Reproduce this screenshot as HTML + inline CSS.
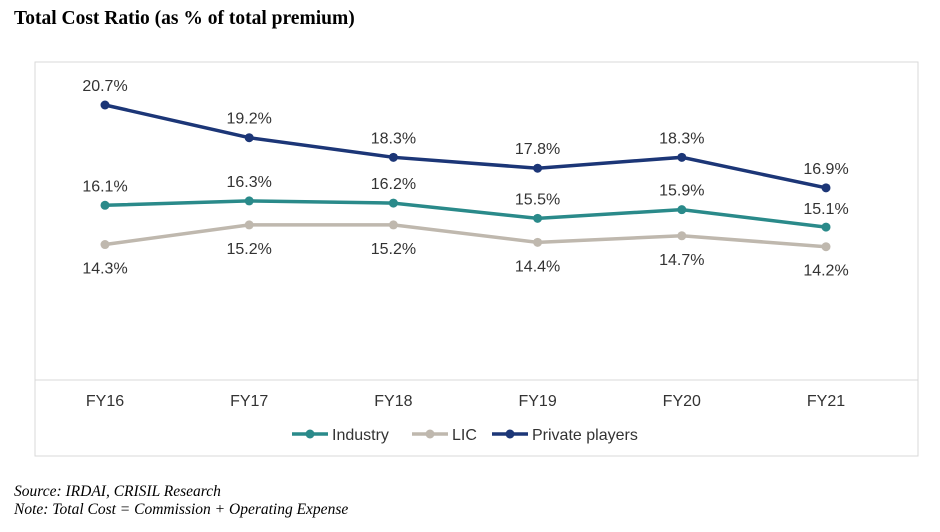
<!DOCTYPE html>
<html><head><meta charset="utf-8"><style>
body{margin:0;background:#fff;width:940px;height:532px;overflow:hidden;position:relative}
.t{position:absolute;left:14px;top:8px;font:bold 19.5px "Liberation Serif",serif;color:#000}
.n{position:absolute;left:14px;font:italic 15.5px "Liberation Serif",serif;color:#000}
</style></head><body>
<div class="t">Total Cost Ratio (as % of total premium)</div>
<svg width="940" height="532" style="position:absolute;left:0;top:0" id="c"></svg>
<div class="n" style="top:483px">Source: IRDAI, CRISIL Research</div>
<div class="n" style="top:501px">Note: Total Cost = Commission + Operating Expense</div>
<script>
const categories=["FY16","FY17","FY18","FY19","FY20","FY21"];
const industry=[16.1,16.3,16.2,15.5,15.9,15.1];
const lic=[14.3,15.2,15.2,14.4,14.7,14.2];
const privatePlayers=[20.7,19.2,18.3,17.8,18.3,16.9];
const svg=document.getElementById('c');const NS="http://www.w3.org/2000/svg";
function mk(t,a,p){const e=document.createElementNS(NS,t);for(const k in a)e.setAttribute(k,a[k]);(p||svg).appendChild(e);return e;}
const x=i=>105+i*144.2;
const y=v=>105+(20.7-v)*21.8;
const f=mk('rect',{x:35,y:62,width:883,height:394,fill:'none',stroke:'#d9d9d9'});

const ax=mk('line',{x1:35,x2:918,y1:380,y2:380,stroke:'#d9d9d9'});

categories.forEach((c,i)=>{const t=mk('text',{x:x(i),y:406,'text-anchor':'middle','font-family':'Liberation Sans,sans-serif','font-size':16,fill:'#333'});t.textContent=c;
});
const series=[{n:'lic',d:lic,c:'#bfb8ae',lab:1},{n:'industry',d:industry,c:'#2a8a8a',lab:-1},{n:'private-players',d:privatePlayers,c:'#1c3677',lab:-1}];
series.forEach(s=>{
const p=mk('polyline',{points:s.d.map((v,i)=>x(i)+','+y(v)).join(' '),fill:'none',stroke:s.c,'stroke-width':3.5});

s.d.forEach((v,i)=>{const m=mk('circle',{cx:x(i),cy:y(v),r:4.5,fill:s.c});

const ly=s.n=='industry'&&i==5?y(v)-13:(s.lab<0?y(v)-14:y(v)+29);
const t=mk('text',{x:x(i),y:ly,'text-anchor':'middle','font-family':'Liberation Sans,sans-serif','font-size':16,fill:'#333'});t.textContent=v.toFixed(1)+'%';
});
});
const leg=[['Industry','#2a8a8a',292],['LIC','#bfb8ae',412],['Private players','#1c3677',492]];
leg.forEach(l=>{const g=mk('g',{});
mk('line',{x1:l[2],x2:l[2]+36,y1:434,y2:434,stroke:l[1],'stroke-width':3.5},g);
mk('circle',{cx:l[2]+18,cy:434,r:4.5,fill:l[1]},g);
const t=mk('text',{x:l[2]+40,y:440,'font-family':'Liberation Sans,sans-serif','font-size':16,fill:'#333'},g);t.textContent=l[0];});
</script>
</body></html>
